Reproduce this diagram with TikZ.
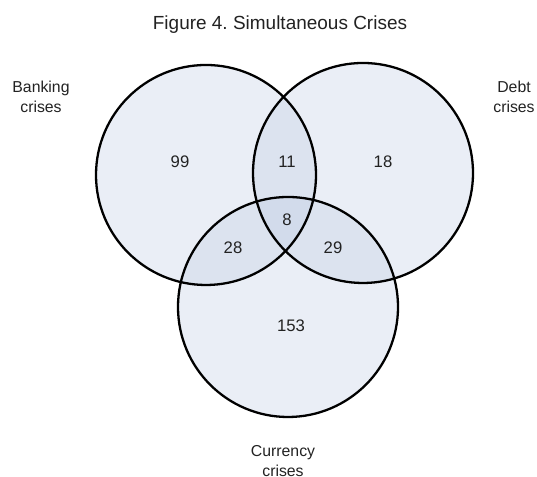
\documentclass[tikz,border=0pt]{standalone}
\usepackage{fontspec}
\setmainfont{Liberation Sans}
\definecolor{vennfill}{RGB}{186,200,224}
\definecolor{inktext}{RGB}{34,34,34}
\tikzset{
    setfill/.style={fill=vennfill, fill opacity=0.3},
    setline/.style={draw=black, line width=1.3pt},
    count/.style={text=inktext, font=\fontsize{9.5}{11}\selectfont},
    setname/.style={text=inktext, align=center, font=\fontsize{9}{11.3}\selectfont}
}
\begin{document}
\frenchspacing
\begin{tikzpicture}
        \useasboundingbox (0,0) rectangle (10.74,9.54);
        % the three sets: shading first, outlines on top
        \fill[setfill] (4.12,6.04) circle (2.2);
        \fill[setfill] (7.26,6.08) circle (2.2);
        \fill[setfill] (5.76,3.40) circle (2.2);
        \draw[setline] (4.12,6.04) circle (2.2);
        \draw[setline] (7.26,6.08) circle (2.2);
        \draw[setline] (5.76,3.40) circle (2.2);
        % title and set names
        \node[text=inktext, font=\fontsize{10.8}{13}\selectfont] (title) at (5.6,9.04) {Figure 4. Simultaneous Crises};
        \node[setname] (banking) at (0.82,7.6) {Banking\\crises};
        \node[setname] (debt) at (10.28,7.6) {Debt\\crises};
        \node[setname] (currency) at (5.66,0.32) {Currency\\crises};
        % counts per region
        \node[count] (bOnly) at (3.6,6.3) {99};
        \node[count] (bd) at (5.74,6.3) {11};
        \node[count] (dOnly) at (7.66,6.3) {18};
        \node[count] (bdc) at (5.74,5.14) {8};
        \node[count] (bc) at (4.66,4.58) {28};
        \node[count] (dc) at (6.66,4.58) {29};
        \node[count] (cOnly) at (5.82,3.02) {153};
    \end{tikzpicture}
\end{document}
